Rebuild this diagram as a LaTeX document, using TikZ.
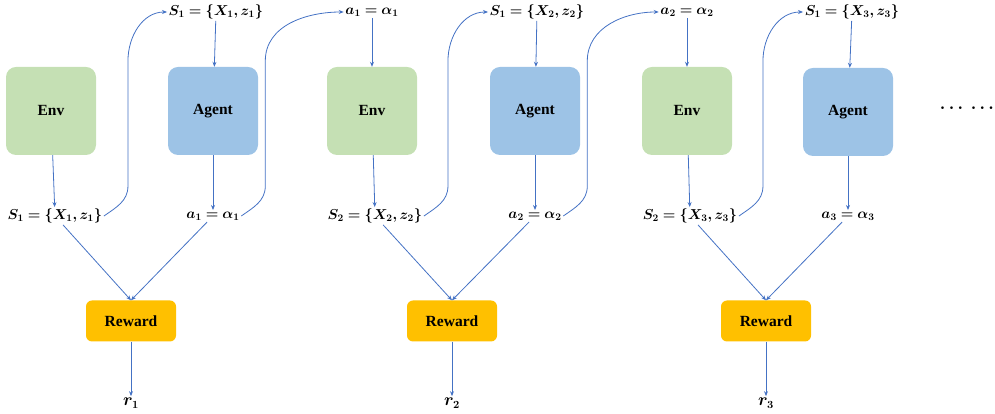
\documentclass[tikz,border=0pt]{standalone}
\usepackage{bm}
\usepackage{fontspec}
\setmainfont{Liberation Serif}
\usetikzlibrary{arrows.meta}
\usetikzlibrary{positioning}

\definecolor{envgreen}{HTML}{C5E0B4}
\definecolor{agentblue}{HTML}{9DC3E6}
\definecolor{rewardgold}{HTML}{FFC000}
\definecolor{linkblue}{HTML}{4472C4}

\begin{document}
\begin{tikzpicture}[x=1pt, y=1pt,
  every node/.style={font=\fontsize{15.5}{18}\selectfont\bfseries},
  envbox/.style={fill=envgreen, rounded corners=10pt, minimum width=90pt, minimum height=88pt},
  agentbox/.style={fill=agentblue, rounded corners=10pt, minimum width=90pt, minimum height=88pt},
  rewardbox/.style={fill=rewardgold, rounded corners=6pt, minimum width=90pt, minimum height=41pt},
  lbl/.style={inner sep=1.5pt, font=\fontsize{13.6}{15}\selectfont},
  flow/.style={draw=linkblue, line width=0.8pt, -{Stealth[length=5pt,width=4pt]}}]
\useasboundingbox (0,0) rectangle (995,414);
% boxes
\node[envbox] (env1) at (51,303) {Env};
\node[agentbox] (agent1) at (213,303) {Agent};
\node[envbox] (env2) at (372,303) {Env};
\node[agentbox] (agent2) at (535,303) {Agent};
\node[envbox] (env3) at (687,303) {Env};
\node[agentbox] (agent3) at (848,302) {Agent};
\node[rewardbox] (rew1) at (131,93) {Reward};
\node[rewardbox] (rew2) at (452,93) {Reward};
\node[rewardbox] (rew3) at (766,93) {Reward};
\node[font=\fontsize{19}{20}\selectfont] (dots) at (967,306) {$\bm{\cdots\;\cdots}$};
% labels below the boxes
\node[lbl] (s1) at (55,198) {$\bm{S_1 = \{X_1, z_1\}}$};
\node[lbl] (a1) at (213,198) {$\bm{a_1 = \alpha_1}$};
\node[lbl] (s2) at (375,198) {$\bm{S_2 = \{X_2, z_2\}}$};
\node[lbl] (a2) at (535,198) {$\bm{a_2 = \alpha_2}$};
\node[lbl] (s3) at (690,198) {$\bm{S_2 = \{X_3, z_3\}}$};
\node[lbl] (a3) at (848,198) {$\bm{a_3 = \alpha_3}$};
% labels above the boxes
\node[lbl] (s1in) at (216,402) {$\bm{S_1 = \{X_1, z_1\}}$};
\node[lbl] (a1in) at (372,402) {$\bm{a_1 = \alpha_1}$};
\node[lbl] (s2in) at (537,402) {$\bm{S_1 = \{X_2, z_2\}}$};
\node[lbl] (a2in) at (687,402) {$\bm{a_2 = \alpha_2}$};
\node[lbl] (s3in) at (852,402) {$\bm{S_1 = \{X_3, z_3\}}$};
% rewards
\node[lbl, font=\fontsize{16}{18}\selectfont] (r1) at (131,11) {$\bm{r_1}$};
\node[lbl, font=\fontsize{16}{18}\selectfont] (r2) at (452,11) {$\bm{r_2}$};
\node[lbl, font=\fontsize{16}{18}\selectfont] (r3) at (766,11) {$\bm{r_3}$};

\draw[flow] (env1) -- (s1);
\draw[flow] (s1in) -- (agent1);
\draw[flow] (agent1) -- (a1);
\draw[flow] (a1in) -- (env2);
\draw[flow] (env2) -- (s2);
\draw[flow] (s2in) -- (agent2);
\draw[flow] (agent2) -- (a2);
\draw[flow] (a2in) -- (env3);
\draw[flow] (env3) -- (s3);
\draw[flow] (s3in) -- (agent3);
\draw[flow] (agent3) -- (a3);

\draw[flow] (s1) -- (rew1.north);
\draw[flow] (a1) -- (rew1.north);
\draw[flow] (s2) -- (rew2.north);
\draw[flow] (a2) -- (rew2.north);
\draw[flow] (s3) -- (rew3.north);
\draw[flow] (a3) -- (rew3.north);
\draw[flow] (rew1) -- (r1);
\draw[flow] (rew2) -- (r2);
\draw[flow] (rew3) -- (r3);

% hand-over curves
\draw[flow] (s1.east) to[out=35,in=-90] ++(24,30) -- ++(0,125) to[out=90,in=180] (s1in.west);
\draw[flow] (a1.east) to[out=35,in=-90] ++(24,30) -- ++(0,125) to[out=90,in=180] (a1in.west);
\draw[flow] (s2.east) to[out=35,in=-90] ++(24,30) -- ++(0,125) to[out=90,in=180] (s2in.west);
\draw[flow] (a2.east) to[out=35,in=-90] ++(24,30) -- ++(0,125) to[out=90,in=180] (a2in.west);
\draw[flow] (s3.east) to[out=35,in=-90] ++(24,30) -- ++(0,125) to[out=90,in=180] (s3in.west);
\end{tikzpicture}
\end{document}
